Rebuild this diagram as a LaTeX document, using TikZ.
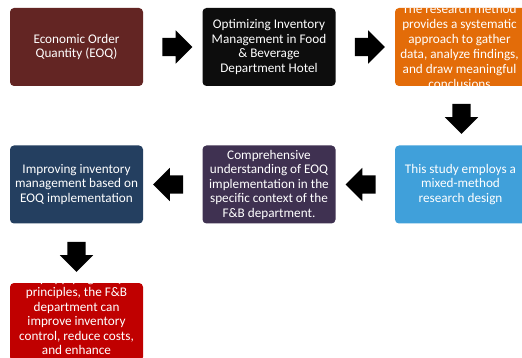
\documentclass[tikz,border=0pt]{standalone}
\usepackage{fontspec}
\setmainfont{Carlito}
\usetikzlibrary{shapes.arrows,calc}
\definecolor{cA}{HTML}{632523}
\definecolor{cB}{HTML}{0D0D0D}
\definecolor{cC}{HTML}{E36C09}
\definecolor{cD}{HTML}{243F60}
\definecolor{cE}{HTML}{3F3151}
\definecolor{cF}{HTML}{40A0DA}
\definecolor{cG}{HTML}{C00000}
\tikzset{
  box/.style={rounded corners=4pt, minimum width=133pt, minimum height=78pt, inner sep=0pt},
  boxtext/.style={text=white, align=center, font=\fontsize{13.2}{14.5}\selectfont, inner sep=0pt},
  blockarrow/.style={single arrow, fill=black, draw=none, minimum height=30pt, minimum width=33pt,
    single arrow head extend=7.5pt, single arrow head indent=0pt, inner xsep=0pt, inner ysep=9pt, anchor=center}
}
\begin{document}
\begin{tikzpicture}[x=1pt,y=-1pt]
\useasboundingbox (0,0) rectangle (522,358);
\clip (0,0) rectangle (522,358);
\fill[white] (0,0) rectangle (522,358);
% boxes
\node[box, fill=cA] (b1) at (76.5,47) {};
\node[box, fill=cB] (b2) at (269,47) {};
\node[box, fill=cC] (b3) at (461.5,47) {};
\node[box, fill=cF] (b6) at (461.5,184.5) {};
\node[box, fill=cE] (b5) at (269,184.5) {};
\node[box, fill=cD] (b4) at (76.5,184.5) {};
\node[box, fill=cG] (b7) at (76.5,322) {};
% texts
\node[boxtext] (t1) at (b1.center) {Economic Order\\Quantity (EOQ)};
\node[boxtext] (t2) at (b2.center) {Optimizing Inventory\\Management in Food\\\& Beverage\\Department Hotel};
\begin{scope}
\clip[rounded corners=4pt] (b3.north west) rectangle (b3.south east);
\node[boxtext, font=\fontsize{13.2}{14.9}\selectfont] (t3) at ($(b3.center)+(-2,-0.75)$) {The research method\\provides a systematic\\approach to gather\\data, analyze findings,\\and draw meaningful\\conclusions};
\end{scope}
\node[boxtext] (t6) at ($(b6.center)+(-1,0)$) {This study employs a\\mixed-method\\research design};
\node[boxtext] (t5) at (b5.center) {Comprehensive\\understanding of EOQ\\implementation in the\\specific context of the\\F\&B department.};
\node[boxtext] (t4) at (b4.center) {Improving inventory\\management based on\\EOQ implementation};
\begin{scope}
\clip[rounded corners=4pt] (b7.north west) rectangle (b7.south east);
\node[boxtext] (t7) at ($(b7.center)+(0,-8.25)$) {By applying EOQ\\principles, the F\&B\\department can\\improve inventory\\control, reduce costs,\\and enhance};
\end{scope}
% block arrows
\node[blockarrow] (a1) at ($(b1.east)!0.5!(b2.west)$) {};
\node[blockarrow] (a2) at ($(b2.east)!0.5!(b3.west)$) {};
\node[blockarrow, rotate=-90] (a3) at ($(b3.south)!0.5!(b6.north)+(0,-1.5)$) {};
\node[blockarrow, rotate=180] (a4) at ($(b6.west)!0.5!(b5.east)$) {};
\node[blockarrow, rotate=180] (a5) at ($(b5.west)!0.5!(b4.east)$) {};
\node[blockarrow, rotate=-90] (a6) at ($(b4.south)!0.5!(b7.north)+(0,-1)$) {};
\end{tikzpicture}
\end{document}
